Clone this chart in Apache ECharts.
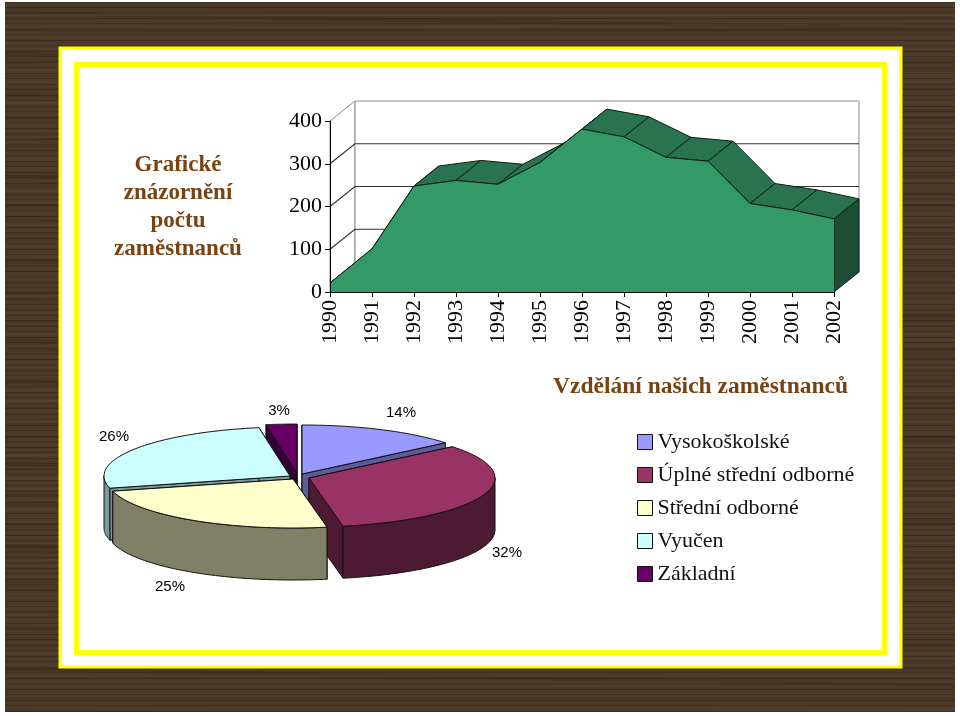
<!DOCTYPE html>
<html><head><meta charset="utf-8">
<style>
html,body{margin:0;padding:0;background:#fff;width:960px;height:716px;overflow:hidden}
#wood{position:absolute;left:5px;top:2px;width:950px;height:710px;background-color:#4a3928;
background-image:
repeating-linear-gradient(0deg,rgba(25,16,8,.30) 0 1px,rgba(0,0,0,0) 1px 3px,rgba(110,92,66,.14) 3px 4px,rgba(0,0,0,0) 4px 6px,rgba(25,16,8,.18) 6px 7px,rgba(0,0,0,0) 7px 11px),
repeating-linear-gradient(0deg,rgba(120,100,72,.09) 0 2px,rgba(0,0,0,0) 2px 13px,rgba(20,12,5,.12) 13px 15px,rgba(0,0,0,0) 15px 29px),
repeating-linear-gradient(1deg,rgba(20,12,5,.10) 0 4px,rgba(0,0,0,0) 4px 41px),
repeating-linear-gradient(-0.6deg,rgba(130,110,80,.07) 0 3px,rgba(0,0,0,0) 3px 53px)}
#chart{position:absolute;left:0;top:0;width:960px;height:716px}
</style>
<script src="https://cdn.jsdelivr.net/npm/echarts@6/dist/echarts.min.js"></script>
</head><body><div id="wood"></div><div id="chart"></div>
<script>
const years=['1990','1991','1992','1993','1994','1995','1996','1997','1998','1999','2000','2001','2002'];
const employees=[21,101,248,261,252,303,381,363,315,306,207,192,171];
const gridTicks=[100,200,300];
const pieNames=['Vysokoškolské','Úplné střední odborné','Střední odborné','Vyučen','Základní'];
const pieValues=[14,32,25,26,3];

// styles and layout (not data)
const pieTop=['#9999ff','#993366','#ffffcc','#ccffff','#660066'];
const pieSide=['#5c5c99','#4d1a33','#808066','#7a9999','#330033'];
const pieApex=[[302,474],[309,478],[293,479],[290,476],[297,473]];
const pieLabelPos=[[401,413],[507,553],[170,587],[114,437],[279,411]];
const paintOrder=[4,0,3,1,2];
const RX=186,RY=49,PDEPTH=52;
const DX=25,DY=-20;
const TILT=8*Math.PI/180;
const SERIF='"Liberation Serif","Times New Roman",serif';
const BROWN='#7a4212';

function poly(points,fill,stroke,lw,z2){
  return {type:'polygon',shape:{points},style:{fill:fill,stroke:stroke,lineWidth:lw==null?1:lw},z2:z2||0,silent:true};
}
function pline(points,stroke,lw){
  return {type:'polyline',shape:{points},style:{fill:'none',stroke:stroke,lineWidth:lw||1},silent:true};
}
const shift=(p)=>[p[0]+DX,p[1]+DY];

function wallsItem(params,api){
  const last=years.length-1;
  const a=api.coord([0,0]),b=api.coord([0,400]),c=api.coord([last,400]),d=api.coord([last,0]);
  const kids=[
    poly([a,b,shift(b),shift(a)],'#fff','#8c8c8c'),
    poly([shift(a),shift(b),shift(c),shift(d)],'#fff','#8c8c8c')
  ];
  gridTicks.forEach(t=>{
    const p=api.coord([0,t]),q=api.coord([last,t]);
    kids.push(pline([p,shift(p),shift(q)],'#333',1.2));
  });
  kids.push(pline([a,shift(a),shift(d)],'#8c8c8c'));
  return {type:'group',children:kids};
}
function topItem(params,api){
  const i=params.dataIndex;
  const p=api.coord([i,employees[i]]),q=api.coord([i+1,employees[i+1]]);
  return poly([p,q,shift(q),shift(p)],'#2a7350','#0a1f14');
}
function sideItem(params,api){
  const last=years.length-1;
  const p=api.coord([last,employees[last]]),q=api.coord([last,0]);
  return poly([p,q,shift(q),shift(p)],'#1c4d36','#0a1f14');
}

const total=pieValues.reduce((s,v)=>s+v,0);
function view(t){return t+TILT*(t>Math.PI?0.4:1)*Math.max(0,-Math.sin(2*t));}
function sliceAngles(k){
  let s=0;for(let i=0;i<k;i++)s+=pieValues[i];
  return [s/total*2*Math.PI,(s+pieValues[k])/total*2*Math.PI];
}
function sliceItem(k){
  return function(params,api){
    const ang=sliceAngles(k),c=pieApex[k];
    const P=t=>{const v=view(t);return [c[0]+RX*Math.sin(v),c[1]-RY*Math.cos(v)];};
    const down=p=>[p[0],p[1]+PDEPTH];
    const arc=[];const n=60;
    for(let i=0;i<=n;i++)arc.push(P(ang[0]+(ang[1]-ang[0])*i/n));
    const kids=[];
    [ang[0],ang[1]].forEach(t=>{
      const p=P(t);
      kids.push(poly([c,p,down(p),down(c)],pieSide[k],'#111'));
    });
    const lo=Math.max(ang[0],Math.PI/2),hi=Math.min(ang[1],Math.PI*1.5);
    if(hi>lo){
      const rim=[];
      for(let i=0;i<=n;i++)rim.push(P(lo+(hi-lo)*i/n));
      kids.push(poly(rim.concat(rim.slice().reverse().map(down)),pieSide[k],'#111'));
    }
    kids.push(poly([c].concat(arc),pieTop[k],'#111'));
    kids.push({type:'text',silent:true,z2:5,style:{x:pieLabelPos[k][0],y:pieLabelPos[k][1],
      text:pieValues[k]+'%',fill:'#000',align:'center',verticalAlign:'middle',
      font:'15px "Liberation Sans",Arial,sans-serif'}});
    return {type:'group',children:kids};
  };
}

const option={
  animation:false,
  backgroundColor:'transparent',
  graphic:[
    {type:'rect',z:-5,silent:true,shape:{x:60,y:48,width:841,height:619},style:{fill:'#fff',stroke:'#ffff00',lineWidth:3}},
    {type:'rect',z:-4,silent:true,shape:{x:76.5,y:64.5,width:808,height:588},style:{fill:'#fff',stroke:'#ffff00',lineWidth:5}}
  ],
  title:[
    {text:'Grafické\nznázornění\npočtu\nzaměstnanců',left:178,top:151,textAlign:'center',
     textStyle:{fontFamily:SERIF,fontSize:23,fontWeight:'bold',color:BROWN,lineHeight:28},padding:0},
    {text:'Vzdělání našich zaměstnanců',left:553,top:375,
     textStyle:{fontFamily:SERIF,fontSize:23.5,fontWeight:'bold',color:BROWN,lineHeight:24},padding:0}
  ],
  legend:{
    orient:'vertical',left:637,top:431,itemWidth:15,itemHeight:15,itemGap:11,selectedMode:false,padding:0,
    textStyle:{fontFamily:SERIF,fontSize:22,color:'#111',padding:[2,0,0,0]},
    data:pieNames.map((n,i)=>({name:n,icon:'rect',itemStyle:{color:pieTop[i],borderColor:'#111',borderWidth:1}}))
  },
  grid:{left:330,right:126,top:121,bottom:424,containLabel:false},
  xAxis:{type:'category',data:years,boundaryGap:false,z:6,
    axisLine:{lineStyle:{color:'#000',width:1}},
    axisTick:{show:true,length:5,lineStyle:{color:'#000'},alignWithLabel:true},
    axisLabel:{rotate:90,interval:0,margin:8,fontFamily:SERIF,fontSize:22,color:'#000'},
    splitLine:{show:false}},
  yAxis:{type:'value',min:0,max:400,interval:100,z:6,
    axisLine:{show:true,lineStyle:{color:'#000',width:1}},
    axisTick:{show:true,length:5,lineStyle:{color:'#000'}},
    axisLabel:{margin:8,fontFamily:SERIF,fontSize:22,color:'#000',padding:[6,0,0,0]},
    splitLine:{show:false}},
  series:[
    {type:'custom',name:'walls',z:1,silent:true,renderItem:wallsItem,data:[[0,0]],encode:{x:0,y:1}},
    {type:'custom',name:'tops',z:2,silent:true,renderItem:topItem,
      data:years.slice(0,-1).map((y,i)=>[i,employees[i]]),encode:{x:0,y:1}},
    {type:'custom',name:'side',z:2,silent:true,renderItem:sideItem,data:[[years.length-1,employees[years.length-1]]],encode:{x:0,y:1}},
    {type:'line',name:'Zaměstnanci',z:3,data:employees,showSymbol:false,silent:true,clip:false,
      lineStyle:{color:'#0a1f14',width:1},areaStyle:{color:'#339966',opacity:1},itemStyle:{color:'#339966'}}
  ].concat(paintOrder.map((k,o)=>({
    type:'custom',name:pieNames[k],coordinateSystem:'none',z:4+o,silent:true,
    renderItem:sliceItem(k),data:[[pieValues[k]]],itemStyle:{color:pieTop[k]}
  })))
};
const chart=echarts.init(document.getElementById('chart'),null,{renderer:'canvas'});
chart.setOption(option);
</script></body></html>
